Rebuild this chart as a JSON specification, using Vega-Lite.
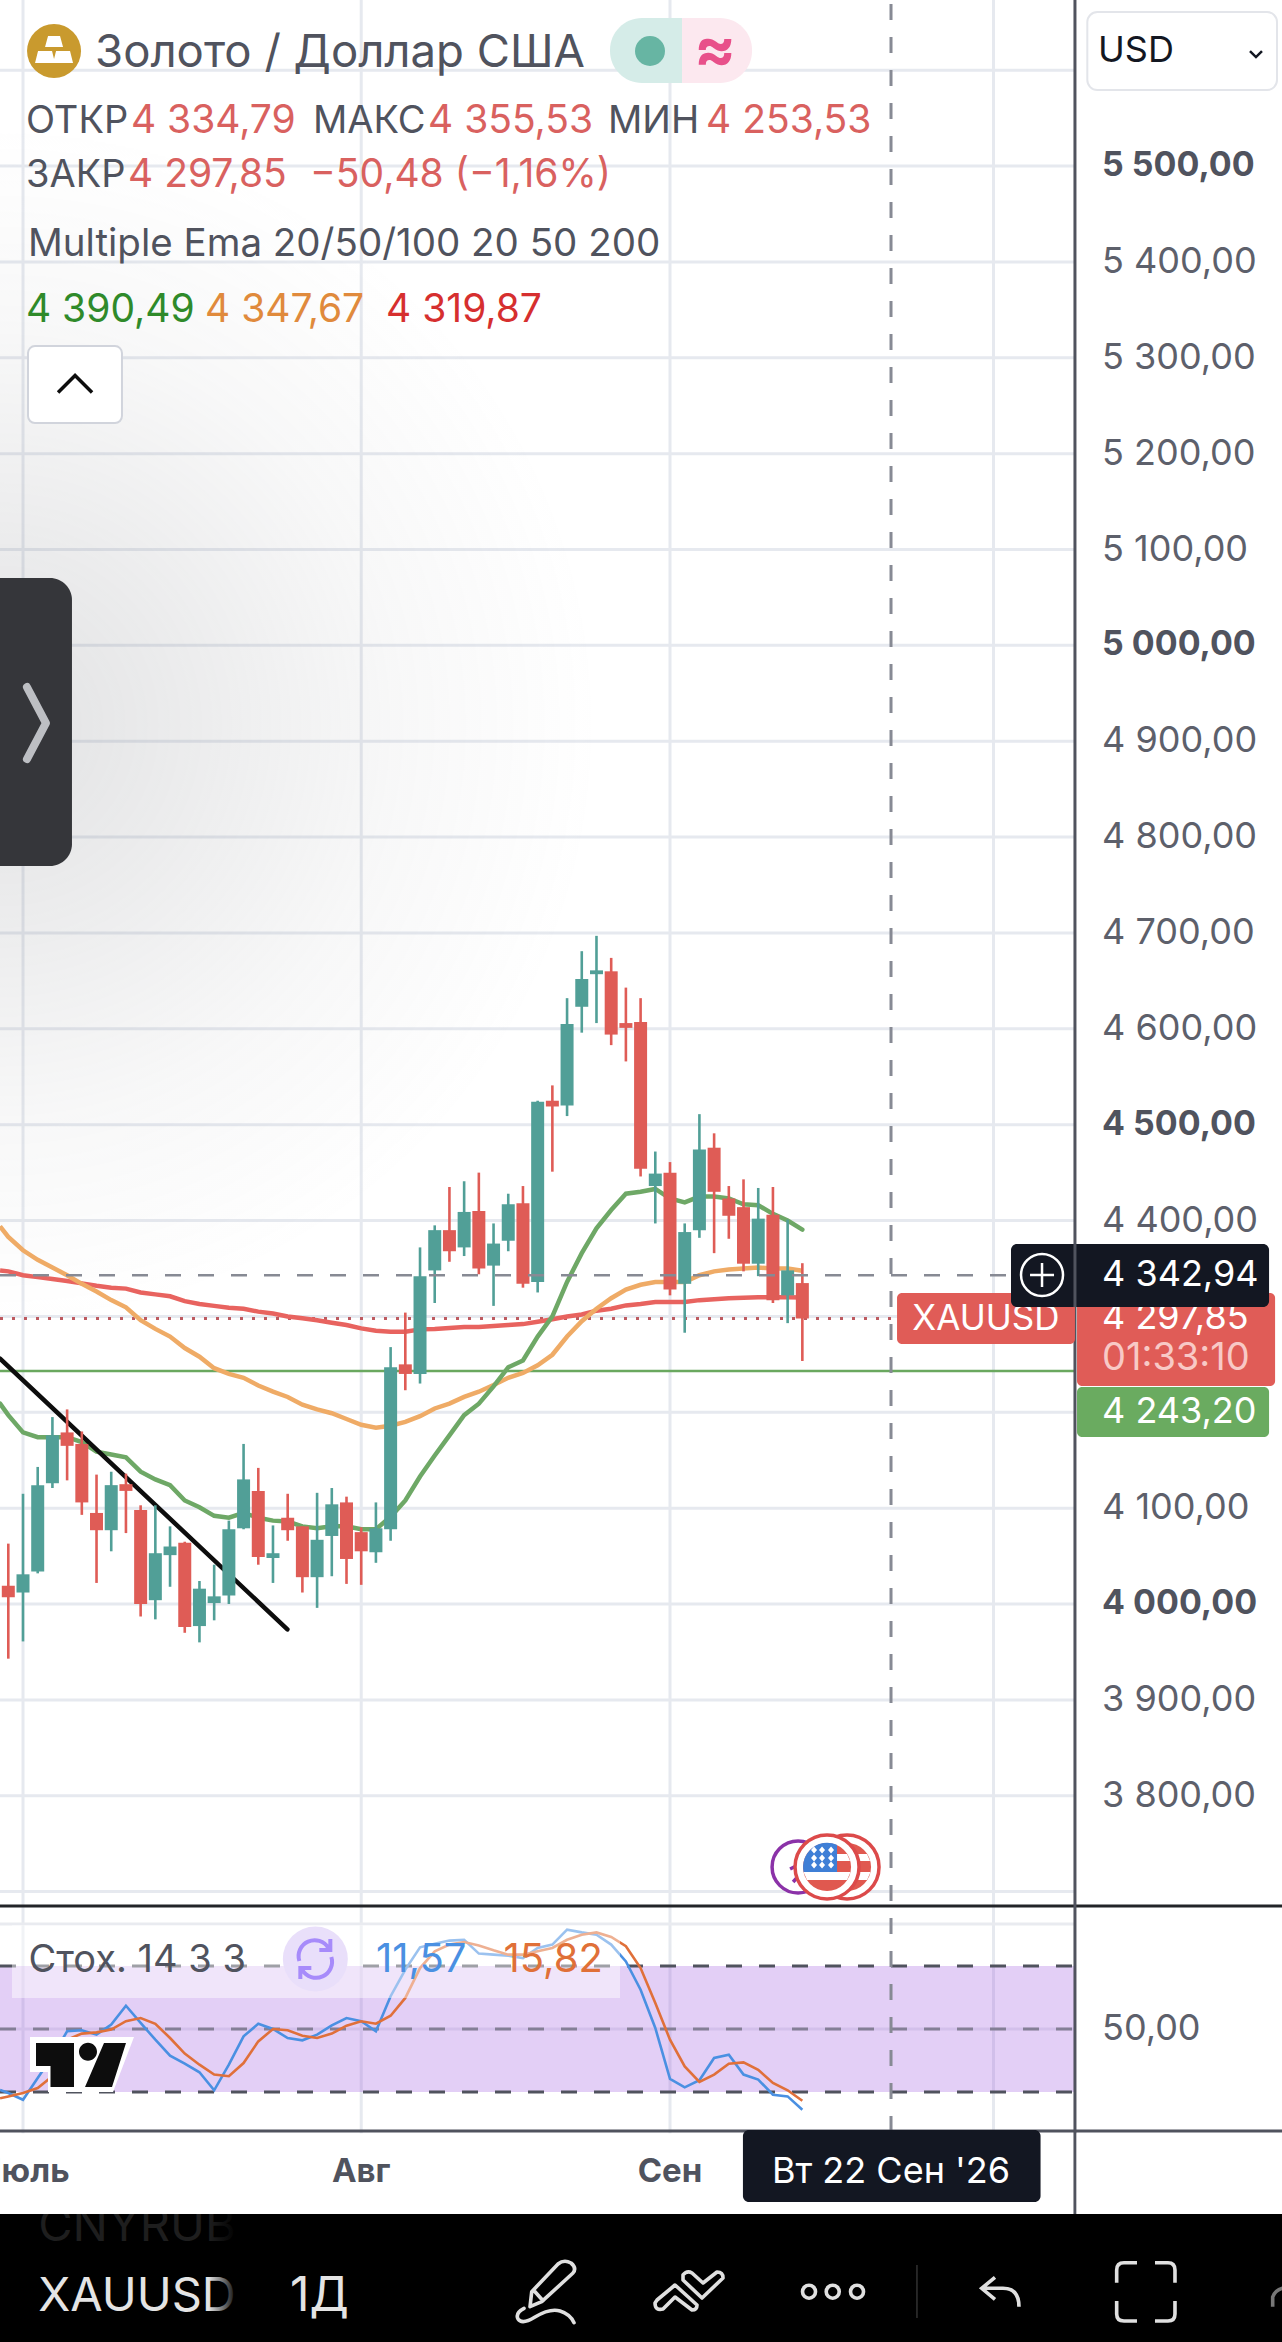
{"$schema":"https://vega.github.io/schema/vega-lite/v6.json","width":1282,"height":2342,"autosize":{"type":"none"},"padding":0,"background":"#ffffff",
"config":{"view":{"stroke":null},"text":{"font":"Inter","align":"left","baseline":"alphabetic","color":"#50535e"}},
"data":{"values":[{"item":"chart"}]},
"datasets":{
"priceGrid":[{"price":3700},{"price":3800},{"price":3900},{"price":4000},{"price":4100},{"price":4200},{"price":4300},{"price":4400},{"price":4500},{"price":4600},{"price":4700},{"price":4800},{"price":4900},{"price":5000},{"price":5100},{"price":5200},{"price":5300},{"price":5400},{"price":5500},{"price":5600}],
"priceLabels":[{"price":3800,"label":"3 800,00","major":false},{"price":3900,"label":"3 900,00","major":false},{"price":4000,"label":"4 000,00","major":true},{"price":4100,"label":"4 100,00","major":false},{"price":4400,"label":"4 400,00","major":false},{"price":4500,"label":"4 500,00","major":true},{"price":4600,"label":"4 600,00","major":false},{"price":4700,"label":"4 700,00","major":false},{"price":4800,"label":"4 800,00","major":false},{"price":4900,"label":"4 900,00","major":false},{"price":5000,"label":"5 000,00","major":true},{"price":5100,"label":"5 100,00","major":false},{"price":5200,"label":"5 200,00","major":false},{"price":5300,"label":"5 300,00","major":false},{"price":5400,"label":"5 400,00","major":false},{"price":5500,"label":"5 500,00","major":true}],
"timeGrid":[{"bar":1,"label":"Июль"},{"bar":24,"label":"Авг"},{"bar":45,"label":"Сен"},{"bar":67,"label":""}],
"stochGrid":[{"level":50},{"level":100}],
"candles":[
{"bar":0,"open":4019,"high":4063,"low":3943,"close":4007},{"bar":1,"open":4012,"high":4115,"low":3961,"close":4031},{"bar":2,"open":4034,"high":4143,"low":4032,"close":4124},{"bar":3,"open":4126,"high":4195,"low":4121,"close":4176},{"bar":4,"open":4179,"high":4203,"low":4129,"close":4165},{"bar":5,"open":4167,"high":4180,"low":4093,"close":4106},{"bar":6,"open":4095,"high":4135,"low":4022,"close":4077},{"bar":7,"open":4077,"high":4138,"low":4055,"close":4124},{"bar":8,"open":4125,"high":4136,"low":4074,"close":4118},{"bar":9,"open":4098,"high":4103,"low":3987,"close":4000},{"bar":10,"open":4004,"high":4103,"low":3984,"close":4053},{"bar":11,"open":4051,"high":4081,"low":4018,"close":4060},{"bar":12,"open":4064,"high":4065,"low":3970,"close":3976},{"bar":13,"open":3977,"high":4024,"low":3960,"close":4016},{"bar":14,"open":4001,"high":4041,"low":3983,"close":4008},{"bar":15,"open":4009,"high":4087,"low":4000,"close":4078},{"bar":16,"open":4079,"high":4167,"low":4078,"close":4130},{"bar":17,"open":4118,"high":4142,"low":4041,"close":4049},{"bar":18,"open":4048,"high":4082,"low":4022,"close":4053},{"bar":19,"open":4090,"high":4115,"low":4066,"close":4077},{"bar":20,"open":4081,"high":4081,"low":4012,"close":4028},{"bar":21,"open":4028,"high":4116,"low":3996,"close":4067},{"bar":22,"open":4071,"high":4121,"low":4029,"close":4104},{"bar":23,"open":4106,"high":4112,"low":4021,"close":4047},{"bar":24,"open":4075,"high":4080,"low":4020,"close":4055},{"bar":25,"open":4054,"high":4106,"low":4043,"close":4079},{"bar":26,"open":4078,"high":4268,"low":4066,"close":4247},{"bar":27,"open":4250,"high":4304,"low":4223,"close":4240},{"bar":28,"open":4240,"high":4372,"low":4230,"close":4342},{"bar":29,"open":4348,"high":4395,"low":4314,"close":4390},{"bar":30,"open":4390,"high":4435,"low":4357,"close":4368},{"bar":31,"open":4372,"high":4441,"low":4363,"close":4409},{"bar":32,"open":4410,"high":4450,"low":4344,"close":4350},{"bar":33,"open":4353,"high":4397,"low":4311,"close":4376},{"bar":34,"open":4379,"high":4428,"low":4368,"close":4417},{"bar":35,"open":4418,"high":4436,"low":4330,"close":4334},{"bar":36,"open":4336,"high":4525,"low":4325,"close":4524},{"bar":37,"open":4525,"high":4541,"low":4451,"close":4519},{"bar":38,"open":4520,"high":4632,"low":4509,"close":4605},{"bar":39,"open":4623,"high":4681,"low":4596,"close":4652},{"bar":40,"open":4657,"high":4697,"low":4606,"close":4661},{"bar":41,"open":4660,"high":4674,"low":4583,"close":4594},{"bar":42,"open":4606,"high":4643,"low":4566,"close":4601},{"bar":43,"open":4607,"high":4632,"low":4446,"close":4454},{"bar":44,"open":4436,"high":4472,"low":4397,"close":4449},{"bar":45,"open":4450,"high":4461,"low":4322,"close":4328},{"bar":46,"open":4334,"high":4397,"low":4283,"close":4388},{"bar":47,"open":4390,"high":4511,"low":4382,"close":4474},{"bar":48,"open":4476,"high":4491,"low":4366,"close":4430},{"bar":49,"open":4423,"high":4436,"low":4381,"close":4405},{"bar":50,"open":4414,"high":4443,"low":4347,"close":4355},{"bar":51,"open":4355,"high":4434,"low":4342,"close":4402},{"bar":52,"open":4406,"high":4435,"low":4314,"close":4317},{"bar":53,"open":4322,"high":4401,"low":4293,"close":4348},{"bar":54,"open":4334.79,"high":4355.53,"low":4253.53,"close":4297.85}],
"ema":[
{"bar":-0.56,"ema20":4209,"ema50":4394,"ema200":4348},{"bar":0,"ema20":4197,"ema50":4383,"ema200":4347},{"bar":1,"ema20":4179,"ema50":4369,"ema200":4343},{"bar":2,"ema20":4174,"ema50":4359,"ema200":4341},{"bar":3,"ema20":4174,"ema50":4351,"ema200":4339},{"bar":4,"ema20":4174,"ema50":4343,"ema200":4337},{"bar":5,"ema20":4169,"ema50":4334,"ema200":4334.5},{"bar":6,"ema20":4159,"ema50":4326,"ema200":4332},{"bar":7,"ema20":4156,"ema50":4317,"ema200":4330},{"bar":8,"ema20":4153,"ema50":4309.5,"ema200":4329},{"bar":9,"ema20":4138,"ema50":4296,"ema200":4325},{"bar":10,"ema20":4130,"ema50":4287,"ema200":4323},{"bar":11,"ema20":4124,"ema50":4279,"ema200":4321},{"bar":12,"ema20":4108,"ema50":4267,"ema200":4316},{"bar":13,"ema20":4101,"ema50":4258,"ema200":4313},{"bar":14,"ema20":4092,"ema50":4246,"ema200":4311},{"bar":15,"ema20":4090,"ema50":4240,"ema200":4309},{"bar":16,"ema20":4095,"ema50":4236,"ema200":4308},{"bar":17,"ema20":4090,"ema50":4228,"ema200":4305},{"bar":18,"ema20":4087,"ema50":4221.5,"ema200":4303},{"bar":19,"ema20":4086,"ema50":4216,"ema200":4300},{"bar":20,"ema20":4081,"ema50":4208,"ema200":4298},{"bar":21,"ema20":4079,"ema50":4203,"ema200":4296},{"bar":22,"ema20":4081,"ema50":4199,"ema200":4293.5},{"bar":23,"ema20":4081,"ema50":4193,"ema200":4291},{"bar":24,"ema20":4078,"ema50":4187,"ema200":4287.5},{"bar":25,"ema20":4078,"ema50":4184,"ema200":4285},{"bar":26,"ema20":4091,"ema50":4186,"ema200":4284},{"bar":27,"ema20":4108,"ema50":4190,"ema200":4284},{"bar":28,"ema20":4133,"ema50":4196,"ema200":4286.5},{"bar":29,"ema20":4155,"ema50":4204,"ema200":4287},{"bar":30,"ema20":4176,"ema50":4209,"ema200":4288},{"bar":31,"ema20":4197,"ema50":4216,"ema200":4289},{"bar":32,"ema20":4209,"ema50":4221.5,"ema200":4289},{"bar":33,"ema20":4227,"ema50":4228.5,"ema200":4290},{"bar":34,"ema20":4247,"ema50":4236,"ema200":4291},{"bar":35,"ema20":4254,"ema50":4241,"ema200":4292},{"bar":36,"ema20":4279,"ema50":4249,"ema200":4294.5},{"bar":37,"ema20":4300,"ema50":4260,"ema200":4297},{"bar":38,"ema20":4336,"ema50":4279,"ema200":4300},{"bar":39,"ema20":4366,"ema50":4295,"ema200":4302},{"bar":40,"ema20":4392,"ema50":4308,"ema200":4306},{"bar":41,"ema20":4411,"ema50":4319,"ema200":4308},{"bar":42,"ema20":4428,"ema50":4328,"ema200":4311.5},{"bar":43,"ema20":4430,"ema50":4333,"ema200":4313},{"bar":44,"ema20":4433,"ema50":4336,"ema200":4315},{"bar":45,"ema20":4423,"ema50":4336,"ema200":4315},{"bar":46,"ema20":4419,"ema50":4336,"ema200":4315},{"bar":47,"ema20":4425,"ema50":4343,"ema200":4317},{"bar":48,"ema20":4425,"ema50":4347,"ema200":4318},{"bar":49,"ema20":4423,"ema50":4349,"ema200":4319},{"bar":50,"ema20":4417,"ema50":4350,"ema200":4319.5},{"bar":51,"ema20":4416,"ema50":4351,"ema200":4320},{"bar":52,"ema20":4407,"ema50":4350,"ema200":4320},{"bar":53,"ema20":4400,"ema50":4350,"ema200":4320},{"bar":54,"ema20":4390.49,"ema50":4347.67,"ema200":4319.87}],
"stoch":[
{"bar":-0.56,"k":21,"d":17},{"bar":0,"k":19.5,"d":17.9},{"bar":1,"k":16.3,"d":19.5},{"bar":2,"k":26.7,"d":21.9},{"bar":3,"k":37,"d":27.5},{"bar":4,"k":48.9,"d":44.9},{"bar":5,"k":49.4,"d":47.8},{"bar":6,"k":47.3,"d":48.4},{"bar":7,"k":52.1,"d":49.7},{"bar":8,"k":61.1,"d":53.7},{"bar":9,"k":52.9,"d":55.2},{"bar":10,"k":44.9,"d":52.5},{"bar":11,"k":37.3,"d":45.7},{"bar":12,"k":33.5,"d":38.3},{"bar":13,"k":29.4,"d":33},{"bar":14,"k":20.8,"d":28.3},{"bar":15,"k":33,"d":27.5},{"bar":16,"k":46.5,"d":33.8},{"bar":17,"k":52.5,"d":44.1},{"bar":18,"k":50,"d":50},{"bar":19,"k":45.7,"d":49.4},{"bar":20,"k":44.6,"d":46.8},{"bar":21,"k":47.3,"d":45.7},{"bar":22,"k":51.7,"d":47.8},{"bar":23,"k":55.2,"d":51.6},{"bar":24,"k":53.7,"d":53.7},{"bar":25,"k":48.9,"d":52.5},{"bar":26,"k":65.6,"d":56.3},{"bar":27,"k":78.3,"d":64.8},{"bar":28,"k":88.9,"d":79},{"bar":29,"k":90.6,"d":87},{"bar":30,"k":92.1,"d":90.2},{"bar":31,"k":92.5,"d":91.4},{"bar":32,"k":85.9,"d":89.8},{"bar":33,"k":85.4,"d":87.5},{"bar":34,"k":84.9,"d":85.4},{"bar":35,"k":83.8,"d":85.4},{"bar":36,"k":88.6,"d":87},{"bar":37,"k":90.2,"d":88.6},{"bar":38,"k":97.3,"d":92.5},{"bar":39,"k":96,"d":94.9},{"bar":40,"k":94.9,"d":96},{"bar":41,"k":90.2,"d":93.8},{"bar":42,"k":82.2,"d":89.4},{"bar":43,"k":68.7,"d":79},{"bar":44,"k":50.5,"d":62.4},{"bar":45,"k":26.2,"d":44.9},{"bar":46,"k":22.2,"d":32.2},{"bar":47,"k":25.6,"d":24.8},{"bar":48,"k":36.2,"d":28.3},{"bar":49,"k":37.8,"d":33.5},{"bar":50,"k":28.3,"d":34.1},{"bar":51,"k":25.9,"d":30.6},{"bar":52,"k":18.7,"d":24.3},{"bar":53,"k":17.9,"d":20.8},{"bar":54,"k":11.57,"d":15.82}],
"trend":[{"bar":-0.56,"price":4256},{"bar":18.98,"price":3973.6}]
},
"resolve":{"scale":{"y":"independent"}},
"layer":[
{"layer":[
{"data":{"name":"timeGrid"},"mark":{"type":"rule","color":"#e6e9ef","strokeWidth":3},"encoding":{"x":{"field":"bar","type":"quantitative","scale":{"domain":[-0.5645,86.62],"nice":false,"zero":false,"padding":0},"axis":null}}},
{"data":{"name":"priceGrid"},"mark":{"type":"rule","color":"#e6e9ef","strokeWidth":3},"encoding":{"y":{"field":"price","type":"quantitative","scale":{"domain":[3230.2,5673.2],"nice":false,"zero":false},"axis":null}}},
{"mark":{"type":"rect","fill":{"gradient":"radial","x1":0.5,"y1":0.5,"r1":0,"x2":0.5,"y2":0.5,"r2":0.5,"stops":[{"offset":0,"color":"rgba(110,112,118,0.2)"},{"offset":0.33,"color":"rgba(110,112,118,0.13)"},{"offset":0.66,"color":"rgba(110,112,118,0.05)"},{"offset":1,"color":"rgba(110,112,118,0)"}]}},"encoding":{"x":{"datum":-41.4,"type":"quantitative","axis":null},"x2":{"datum":40.2},"y":{"datum":4291,"type":"quantitative","axis":null},"y2":{"datum":5542.7}}},
{"mark":{"type":"rect","color":"#ffffff"},"encoding":{"x":{"datum":72.54,"type":"quantitative","axis":null},"x2":{"datum":86.7},"y":{"datum":3230.2,"type":"quantitative","axis":null},"y2":{"datum":5673.2}}},
{"mark":{"type":"rule","color":"#bd5a60","strokeWidth":3,"strokeDash":[3,9]},"encoding":{"x":{"datum":-0.5645,"type":"quantitative","axis":null},"x2":{"datum":72.54},"y":{"datum":4297.85,"type":"quantitative","axis":null}}},
{"mark":{"type":"rule","color":"#6aa85f","strokeWidth":2.5},"encoding":{"x":{"datum":-0.5645,"type":"quantitative","axis":null},"x2":{"datum":72.54},"y":{"datum":4243.2,"type":"quantitative","axis":null}}},
{"data":{"name":"ema"},"mark":{"type":"line","color":"#e8635f","strokeWidth":4.5},"encoding":{"x":{"field":"bar","type":"quantitative","axis":null},"y":{"field":"ema200","type":"quantitative","axis":null}}},
{"data":{"name":"ema"},"mark":{"type":"line","color":"#efab66","strokeWidth":4.5},"encoding":{"x":{"field":"bar","type":"quantitative","axis":null},"y":{"field":"ema50","type":"quantitative","axis":null}}},
{"data":{"name":"ema"},"mark":{"type":"line","color":"#6ea866","strokeWidth":4.5,"strokeCap":"round"},"encoding":{"x":{"field":"bar","type":"quantitative","axis":null},"y":{"field":"ema20","type":"quantitative","axis":null}}},
{"data":{"name":"trend"},"mark":{"type":"line","color":"#0d0d0d","strokeWidth":4.5,"strokeCap":"round"},"encoding":{"x":{"field":"bar","type":"quantitative","axis":null},"y":{"field":"price","type":"quantitative","axis":null}}},
{"data":{"name":"candles"},"mark":{"type":"rule","strokeWidth":2.6},"encoding":{"x":{"field":"bar","type":"quantitative","axis":null},"y":{"field":"low","type":"quantitative","axis":null},"y2":{"field":"high"},"color":{"condition":{"test":"datum.close>=datum.open","value":"#519f97"},"value":"#df5c56"}}},
{"data":{"name":"candles"},"mark":{"type":"bar","width":13,"orient":"vertical"},"encoding":{"x":{"field":"bar","type":"quantitative","scale":{"padding":0},"axis":null},"y":{"field":"open","type":"quantitative","axis":null},"y2":{"field":"close"},"color":{"condition":{"test":"datum.close>=datum.open","value":"#519f97"},"value":"#df5c56"}}}
]},
{"layer":[
{"data":{"name":"stochGrid"},"mark":{"type":"rule","color":"#e9ebf0","strokeWidth":3},"encoding":{"x":{"datum":-0.5645,"type":"quantitative","axis":null},"x2":{"datum":72.54},"y":{"field":"level","type":"quantitative","scale":{"domain":[-99.05,1016.19],"nice":false,"zero":false},"axis":null}}},
{"mark":{"type":"rect","color":"#9b51e0","opacity":0.28},"encoding":{"x":{"datum":-0.5645,"type":"quantitative","axis":null},"x2":{"datum":72.54},"y":{"datum":20,"type":"quantitative","axis":null},"y2":{"datum":80}}},
{"mark":{"type":"rule","color":"#50535e","strokeWidth":3,"strokeDash":[16,17]},"encoding":{"x":{"datum":-0.5645,"type":"quantitative","axis":null},"x2":{"datum":72.54},"y":{"datum":80,"type":"quantitative","axis":null}}},
{"mark":{"type":"rule","color":"#50535e","strokeWidth":3,"strokeDash":[16,17],"opacity":0.6},"encoding":{"x":{"datum":-0.5645,"type":"quantitative","axis":null},"x2":{"datum":72.54},"y":{"datum":50,"type":"quantitative","axis":null}}},
{"mark":{"type":"rule","color":"#50535e","strokeWidth":3,"strokeDash":[16,17]},"encoding":{"x":{"datum":-0.5645,"type":"quantitative","axis":null},"x2":{"datum":72.54},"y":{"datum":20,"type":"quantitative","axis":null}}},
{"data":{"name":"stoch"},"mark":{"type":"line","color":"#4a90e2","strokeWidth":2.6},"encoding":{"x":{"field":"bar","type":"quantitative","axis":null},"y":{"field":"k","type":"quantitative","axis":null}}},
{"data":{"name":"stoch"},"mark":{"type":"line","color":"#e0703a","strokeWidth":2.6},"encoding":{"x":{"field":"bar","type":"quantitative","axis":null},"y":{"field":"d","type":"quantitative","axis":null}}},
{"data":{"values":[{"level":50,"label":"50,00"}]},"mark":{"type":"text","fontSize":36,"color":"#5d606b","baseline":"middle"},"encoding":{"x":{"datum":74.38,"type":"quantitative","axis":null},"y":{"field":"level","type":"quantitative","axis":null},"text":{"field":"label"}}}
]},
{"layer":[
{"mark":{"type":"rule","color":"#878a94","strokeWidth":3,"strokeDash":[16,17]},"encoding":{"x":{"datum":60.03,"type":"quantitative","axis":null},"y":{"datum":3449.2,"type":"quantitative","scale":{"domain":[3230.2,5673.2],"nice":false,"zero":false},"axis":null},"y2":{"datum":5673.2}}},
{"mark":{"type":"rule","color":"#878a94","strokeWidth":2.5,"strokeDash":[16,17]},"encoding":{"x":{"datum":-0.5645,"type":"quantitative","axis":null},"x2":{"datum":72.54},"y":{"datum":4342.94,"type":"quantitative","axis":null}}},
{"data":{"name":"priceLabels"},"transform":[{"filter":"!datum.major"}],"mark":{"type":"text","fontSize":36,"color":"#5d606b","baseline":"middle"},"encoding":{"x":{"datum":74.38,"type":"quantitative","axis":null},"y":{"field":"price","type":"quantitative","axis":null},"text":{"field":"label"}}},
{"data":{"name":"priceLabels"},"transform":[{"filter":"datum.major"}],"mark":{"type":"text","fontSize":34,"fontWeight":"bold","color":"#50535e","baseline":"middle"},"encoding":{"x":{"datum":74.38,"type":"quantitative","axis":null},"y":{"field":"price","type":"quantitative","axis":null},"text":{"field":"label"}}},
{"mark":{"type":"rect","color":"#ffffff","opacity":0.45},"encoding":{"x":{"datum":0.25,"type":"quantitative","axis":null},"x2":{"datum":41.6},"y":{"datum":3589,"type":"quantitative","axis":null},"y2":{"datum":3665.2}}},
{"mark":{"type":"text","text":"Стох. 14 3 3","fontSize":38},"encoding":{"x":{"datum":1.37,"type":"quantitative","axis":null},"y":{"datum":3616.1,"type":"quantitative","axis":null}}},
{"mark":{"type":"point","shape":"circle","size":4225,"filled":true,"color":"#e9dffa","opacity":1},"encoding":{"x":{"datum":20.88,"type":"quantitative","axis":null},"y":{"datum":3629.7,"type":"quantitative","axis":null}}},
{"mark":{"type":"point","shape":"M-16 2A16 16 0 0 1 13-11M15-20V-9H4M16-2A16 16 0 0 1-13 11M-15 20V9H-4","size":4,"filled":false,"color":"#a78bfa","strokeWidth":4,"opacity":1},"encoding":{"x":{"datum":20.88,"type":"quantitative","axis":null},"y":{"datum":3629.7,"type":"quantitative","axis":null}}},
{"mark":{"type":"text","text":"11,57","fontSize":40,"color":"#4a90e2"},"encoding":{"x":{"datum":25,"type":"quantitative","axis":null},"y":{"datum":3616.1,"type":"quantitative","axis":null}}},
{"mark":{"type":"text","text":"15,82","fontSize":40,"color":"#e07038"},"encoding":{"x":{"datum":33.68,"type":"quantitative","axis":null},"y":{"datum":3616.1,"type":"quantitative","axis":null}}},
{"mark":{"type":"point","shape":"M30 37H134L113 92H48V72H30Z","size":4,"filled":true,"color":"#ffffff","opacity":1},"encoding":{"x":{"datum":-0.5645,"type":"quantitative","axis":null},"y":{"datum":3586.9,"type":"quantitative","axis":null}}},
{"mark":{"type":"point","shape":"M36 43H74V87H50.5V66H36ZM104 43H126L112 87H85ZM97 51.7A9 9 0 1 1 79 51.7A9 9 0 1 1 97 51.7Z","size":4,"filled":true,"color":"#0d0d0d","opacity":1},"encoding":{"x":{"datum":-0.5645,"type":"quantitative","axis":null},"y":{"datum":3586.9,"type":"quantitative","axis":null}}},

{"mark":{"type":"point","shape":"circle","size":2704,"filled":true,"fill":"#ffffff","stroke":"#8b32a8","strokeWidth":3.5,"opacity":1},"encoding":{"x":{"datum":53.71,"type":"quantitative","axis":null},"y":{"datum":3725.7,"type":"quantitative","axis":null}}},
{"mark":{"type":"point","shape":"M-8 2L4-4M-5 15L4 5","size":4,"filled":false,"color":"#8b32a8","strokeWidth":3.5,"opacity":1},"encoding":{"x":{"datum":53.71,"type":"quantitative","axis":null},"y":{"datum":3725.7,"type":"quantitative","axis":null}}},
{"mark":{"type":"point","shape":"circle","size":4096,"filled":true,"fill":"#ffffff","stroke":"#dc4a4a","strokeWidth":3.5,"opacity":1},"encoding":{"x":{"datum":57.04,"type":"quantitative","axis":null},"y":{"datum":3725.7,"type":"quantitative","axis":null}}},
{"mark":{"type":"point","shape":"circle","size":2304,"filled":true,"color":"#e0584f","opacity":1},"encoding":{"x":{"datum":57.04,"type":"quantitative","axis":null},"y":{"datum":3725.7,"type":"quantitative","axis":null}}},
{"mark":{"type":"point","shape":"M-20-13H20L23-6H-23ZM-23.5 5H23.5L20 13H-20Z","size":4,"filled":true,"color":"#ffffff","opacity":1},"encoding":{"x":{"datum":57.04,"type":"quantitative","axis":null},"y":{"datum":3725.7,"type":"quantitative","axis":null}}},
{"mark":{"type":"point","shape":"circle","size":4096,"filled":true,"fill":"#ffffff","stroke":"#dc4a4a","strokeWidth":3.5,"opacity":1},"encoding":{"x":{"datum":55.68,"type":"quantitative","axis":null},"y":{"datum":3725.7,"type":"quantitative","axis":null}}},
{"mark":{"type":"point","shape":"circle","size":2304,"filled":true,"color":"#e0584f","opacity":1},"encoding":{"x":{"datum":55.68,"type":"quantitative","axis":null},"y":{"datum":3725.7,"type":"quantitative","axis":null}}},
{"mark":{"type":"point","shape":"M-20-13H20L23-6H-23ZM-23.5 5H23.5L20 13H-20Z","size":4,"filled":true,"color":"#ffffff","opacity":1},"encoding":{"x":{"datum":55.68,"type":"quantitative","axis":null},"y":{"datum":3725.7,"type":"quantitative","axis":null}}},
{"mark":{"type":"point","shape":"M10 5H-23.4A24 24 0 0 1 10-22Z","size":4,"filled":true,"color":"#3f7fd6","opacity":1},"encoding":{"x":{"datum":55.68,"type":"quantitative","axis":null},"y":{"datum":3725.7,"type":"quantitative","axis":null}}},
{"mark":{"type":"point","shape":"M-13-20.5L-10-17L-13-13.5L-16-17ZM-5-20.5L-2-17L-5-13.5L-8-17ZM4-20.5L7-17L4-13.5L1-17ZM-13-12.5L-10-9L-13-5.5L-16-9ZM-5-12.5L-2-9L-5-5.5L-8-9ZM4-12.5L7-9L4-5.5L1-9ZM-13-5.5L-10-2L-13 1.5L-16-2ZM-5-5.5L-2-2L-5 1.5L-8-2ZM4-5.5L7-2L4 1.5L1-2Z","size":4,"filled":true,"color":"#ffffff","opacity":1},"encoding":{"x":{"datum":55.68,"type":"quantitative","axis":null},"y":{"datum":3725.7,"type":"quantitative","axis":null}}},

{"mark":{"type":"rule","color":"#222428","strokeWidth":3},"encoding":{"y":{"datum":3685,"type":"quantitative","axis":null}}},
{"mark":{"type":"rule","color":"#50535e","strokeWidth":3},"encoding":{"y":{"datum":3450.2,"type":"quantitative","axis":null}}},
{"mark":{"type":"rule","color":"#50535e","strokeWidth":3},"encoding":{"x":{"datum":72.54,"type":"quantitative","axis":null},"y":{"datum":3363.7,"type":"quantitative","axis":null},"y2":{"datum":5673.2}}},

{"mark":{"type":"rect","color":"#e05c57","cornerRadius":5},"encoding":{"x":{"datum":60.44,"type":"quantitative","axis":null},"x2":{"datum":72.54},"y":{"datum":4271.2,"type":"quantitative","axis":null},"y2":{"datum":4324.4}}},
{"mark":{"type":"text","text":"XAUUSD","fontSize":35,"color":"#ffffff","baseline":"middle"},"encoding":{"x":{"datum":61.48,"type":"quantitative","axis":null},"y":{"datum":4297.3,"type":"quantitative","axis":null}}},
{"mark":{"type":"rect","color":"#e05c57","cornerRadius":5},"encoding":{"x":{"datum":72.68,"type":"quantitative","axis":null},"x2":{"datum":86.15},"y":{"datum":4227.4,"type":"quantitative","axis":null},"y2":{"datum":4324.4}}},
{"mark":{"type":"text","text":"4 297,85","fontSize":36,"color":"#ffffff","baseline":"middle"},"encoding":{"x":{"datum":74.38,"type":"quantitative","axis":null},"y":{"datum":4297.85,"type":"quantitative","axis":null}}},
{"mark":{"type":"text","text":"01:33:10","fontSize":38,"color":"#f8c9c6","baseline":"middle"},"encoding":{"x":{"datum":74.38,"type":"quantitative","axis":null},"y":{"datum":4255.6,"type":"quantitative","axis":null}}},
{"mark":{"type":"rect","color":"#6aab60","cornerRadius":5},"encoding":{"x":{"datum":72.68,"type":"quantitative","axis":null},"x2":{"datum":85.74},"y":{"datum":4174.2,"type":"quantitative","axis":null},"y2":{"datum":4226.4}}},
{"mark":{"type":"text","text":"4 243,20","fontSize":36,"color":"#ffffff","baseline":"middle"},"encoding":{"x":{"datum":74.38,"type":"quantitative","axis":null},"y":{"datum":4200.3,"type":"quantitative","axis":null}}},
{"mark":{"type":"rect","color":"#131722","cornerRadius":6},"encoding":{"x":{"datum":68.19,"type":"quantitative","axis":null},"x2":{"datum":85.74},"y":{"datum":4309.8,"type":"quantitative","axis":null},"y2":{"datum":4375.5}}},
{"mark":{"type":"rule","color":"#50535e","strokeWidth":3},"encoding":{"x":{"datum":72.54,"type":"quantitative","axis":null},"y":{"datum":4309.8,"type":"quantitative","axis":null},"y2":{"datum":4375.5}}},
{"mark":{"type":"point","shape":"circle","size":1764,"filled":false,"color":"#ffffff","strokeWidth":2.5,"opacity":1},"encoding":{"x":{"datum":70.3,"type":"quantitative","axis":null},"y":{"datum":4343.2,"type":"quantitative","axis":null}}},
{"mark":{"type":"point","shape":"M-12 0H12M0-12V12","size":4,"filled":false,"color":"#ffffff","strokeWidth":2.5,"opacity":1},"encoding":{"x":{"datum":70.3,"type":"quantitative","axis":null},"y":{"datum":4343.2,"type":"quantitative","axis":null}}},
{"mark":{"type":"text","text":"4 342,94","fontSize":36,"color":"#ffffff","baseline":"middle"},"encoding":{"x":{"datum":74.38,"type":"quantitative","axis":null},"y":{"datum":4342.94,"type":"quantitative","axis":null}}},

{"mark":{"type":"rect","fill":"#ffffff","stroke":"#e3e5ea","strokeWidth":2,"cornerRadius":10},"encoding":{"x":{"datum":73.38,"type":"quantitative","axis":null},"x2":{"datum":86.28},"y":{"datum":5579.3,"type":"quantitative","axis":null},"y2":{"datum":5660.6}}},
{"mark":{"type":"text","text":"USD","fontSize":36,"color":"#131722","baseline":"middle"},"encoding":{"x":{"datum":74.11,"type":"quantitative","axis":null},"y":{"datum":5620,"type":"quantitative","axis":null}}},
{"mark":{"type":"point","shape":"M-6-3L0 3L6-3","size":4,"filled":false,"color":"#131722","strokeWidth":2.5,"opacity":1},"encoding":{"x":{"datum":84.85,"type":"quantitative","axis":null},"y":{"datum":5616.8,"type":"quantitative","axis":null}}},

{"mark":{"type":"point","shape":"circle","size":2916,"filled":true,"color":"#c99a2e","opacity":1},"encoding":{"x":{"datum":3.11,"type":"quantitative","axis":null},"y":{"datum":5620,"type":"quantitative","axis":null}}},
{"mark":{"type":"point","shape":"M-6-15H6L9-4H-9ZM-16 0H-2L1 12H-19ZM2 0H16L19 12H-1Z","size":4,"filled":true,"color":"#ffffff","opacity":1},"encoding":{"x":{"datum":3.11,"type":"quantitative","axis":null},"y":{"datum":5620,"type":"quantitative","axis":null}}},
{"mark":{"type":"text","text":"Золото / Доллар США","fontSize":45.5},"encoding":{"x":{"datum":5.9,"type":"quantitative","axis":null},"y":{"datum":5603.3,"type":"quantitative","axis":null}}},
{"mark":{"type":"rect","color":"#d5ece8","cornerRadiusTopLeft":32,"cornerRadiusBottomLeft":32},"encoding":{"x":{"datum":40.92,"type":"quantitative","axis":null},"x2":{"datum":45.82},"y":{"datum":5586.6,"type":"quantitative","axis":null},"y2":{"datum":5654.4}}},
{"mark":{"type":"rect","color":"#fce8ef","cornerRadiusTopRight":32,"cornerRadiusBottomRight":32},"encoding":{"x":{"datum":45.82,"type":"quantitative","axis":null},"x2":{"datum":50.58},"y":{"datum":5586.6,"type":"quantitative","axis":null},"y2":{"datum":5654.4}}},
{"mark":{"type":"point","shape":"circle","size":900,"filled":true,"color":"#67b5a3","opacity":1},"encoding":{"x":{"datum":43.64,"type":"quantitative","axis":null},"y":{"datum":5620,"type":"quantitative","axis":null}}},
{"mark":{"type":"text","text":"≈","fontSize":62,"fontWeight":"bold","color":"#e8508a","align":"center","baseline":"middle"},"encoding":{"x":{"datum":48.06,"type":"quantitative","axis":null},"y":{"datum":5620,"type":"quantitative","axis":null}}},

{"mark":{"type":"text","text":"ОТКР","fontSize":38},"encoding":{"x":{"datum":1.2,"type":"quantitative","axis":null},"y":{"datum":5534.4,"type":"quantitative","axis":null}}},
{"mark":{"type":"text","text":"4 334,79","fontSize":39,"color":"#d9615f"},"encoding":{"x":{"datum":8.34,"type":"quantitative","axis":null},"y":{"datum":5534.4,"type":"quantitative","axis":null}}},
{"mark":{"type":"text","text":"МАКС","fontSize":38},"encoding":{"x":{"datum":20.72,"type":"quantitative","axis":null},"y":{"datum":5534.4,"type":"quantitative","axis":null}}},
{"mark":{"type":"text","text":"4 355,53","fontSize":39,"color":"#d9615f"},"encoding":{"x":{"datum":28.54,"type":"quantitative","axis":null},"y":{"datum":5534.4,"type":"quantitative","axis":null}}},
{"mark":{"type":"text","text":"МИН","fontSize":38},"encoding":{"x":{"datum":40.78,"type":"quantitative","axis":null},"y":{"datum":5534.4,"type":"quantitative","axis":null}}},
{"mark":{"type":"text","text":"4 253,53","fontSize":39,"color":"#d9615f"},"encoding":{"x":{"datum":47.45,"type":"quantitative","axis":null},"y":{"datum":5534.4,"type":"quantitative","axis":null}}},
{"mark":{"type":"text","text":"ЗАКР","fontSize":38},"encoding":{"x":{"datum":1.2,"type":"quantitative","axis":null},"y":{"datum":5478.1,"type":"quantitative","axis":null}}},
{"mark":{"type":"text","text":"4 297,85","fontSize":39,"color":"#d9615f"},"encoding":{"x":{"datum":8.14,"type":"quantitative","axis":null},"y":{"datum":5478.1,"type":"quantitative","axis":null}}},
{"mark":{"type":"text","text":"−50,48 (−1,16%)","fontSize":39,"color":"#d9615f"},"encoding":{"x":{"datum":20.52,"type":"quantitative","axis":null},"y":{"datum":5478.1,"type":"quantitative","axis":null}}},
{"mark":{"type":"text","text":"Multiple Ema 20/50/100 20 50 200","fontSize":38.5},"encoding":{"x":{"datum":1.34,"type":"quantitative","axis":null},"y":{"datum":5406.1,"type":"quantitative","axis":null}}},
{"mark":{"type":"text","text":"4 390,49","fontSize":39,"color":"#2f8a2a"},"encoding":{"x":{"datum":1.2,"type":"quantitative","axis":null},"y":{"datum":5337.3,"type":"quantitative","axis":null}}},
{"mark":{"type":"text","text":"4 347,67","fontSize":39,"color":"#e08a3c"},"encoding":{"x":{"datum":13.38,"type":"quantitative","axis":null},"y":{"datum":5337.3,"type":"quantitative","axis":null}}},
{"mark":{"type":"text","text":"4 319,87","fontSize":39,"color":"#d62f2f"},"encoding":{"x":{"datum":25.69,"type":"quantitative","axis":null},"y":{"datum":5337.3,"type":"quantitative","axis":null}}},
{"mark":{"type":"rect","fill":"#ffffff","stroke":"#d1d4dc","strokeWidth":2,"cornerRadius":7},"encoding":{"x":{"datum":1.34,"type":"quantitative","axis":null},"x2":{"datum":7.73},"y":{"datum":5231.9,"type":"quantitative","axis":null},"y2":{"datum":5312.2}}},
{"mark":{"type":"point","shape":"M-17 8.5L0-8.5L17 8.5","size":4,"filled":false,"color":"#0d0d0d","strokeWidth":3.5,"opacity":1},"encoding":{"x":{"datum":4.54,"type":"quantitative","axis":null},"y":{"datum":5272.6,"type":"quantitative","axis":null}}},

{"mark":{"type":"rect","color":"#35363a","cornerRadius":22},"encoding":{"x":{"datum":-3,"type":"quantitative","axis":null},"x2":{"datum":4.33},"y":{"datum":4769.8,"type":"quantitative","axis":null},"y2":{"datum":5070.2}}},
{"mark":{"type":"point","shape":"M-9-36L10 0L-9 36","size":4,"filled":false,"color":"#bdbfc3","strokeWidth":8,"strokeCap":"round","strokeJoin":"round","opacity":1},"encoding":{"x":{"datum":1.88,"type":"quantitative","axis":null},"y":{"datum":4919,"type":"quantitative","axis":null}}},

{"mark":{"type":"rect","color":"#000000"},"encoding":{"x":{"datum":-0.5645,"type":"quantitative","axis":null},"x2":{"datum":86.7},"y":{"datum":3230.2,"type":"quantitative","axis":null},"y2":{"datum":3363.7}}},
{"mark":{"type":"text","text":"CNYRUB","fontSize":47,"color":"#1e1e1e"},"encoding":{"x":{"datum":2.03,"type":"quantitative","axis":null},"y":{"datum":3335.5,"type":"quantitative","axis":null}}},
{"mark":{"type":"rect","color":"#ffffff"},"encoding":{"x":{"datum":-0.5645,"type":"quantitative","axis":null},"x2":{"datum":72.4},"y":{"datum":3363.7,"type":"quantitative","axis":null},"y2":{"datum":3448}}},
{"mark":{"type":"rect","color":"#ffffff"},"encoding":{"x":{"datum":72.66,"type":"quantitative","axis":null},"x2":{"datum":86.7},"y":{"datum":3363.7,"type":"quantitative","axis":null},"y2":{"datum":3448}}},
{"data":{"name":"timeGrid"},"mark":{"type":"text","fontSize":33,"fontWeight":"bold","color":"#50535e","align":"center","baseline":"middle"},"encoding":{"x":{"field":"bar","type":"quantitative","axis":null},"y":{"datum":3407.5,"type":"quantitative","axis":null},"text":{"field":"label"}}},
{"mark":{"type":"rect","color":"#131722","cornerRadius":6},"encoding":{"x":{"datum":49.96,"type":"quantitative","axis":null},"x2":{"datum":70.2},"y":{"datum":3376.2,"type":"quantitative","axis":null},"y2":{"datum":3451.3}}},
{"mark":{"type":"text","text":"Вт 22 Сен '26","fontSize":36,"color":"#ffffff","align":"center","baseline":"middle"},"encoding":{"x":{"datum":60.03,"type":"quantitative","axis":null},"y":{"datum":3407.5,"type":"quantitative","axis":null}}},

{"mark":{"type":"text","text":"XAUUSD","fontSize":47,"color":"#e4e4e4"},"encoding":{"x":{"datum":2.03,"type":"quantitative","axis":null},"y":{"datum":3262.8,"type":"quantitative","axis":null}}},
{"mark":{"type":"rect","fill":{"gradient":"linear","x1":0,"y1":0,"x2":1,"y2":0,"stops":[{"offset":0,"color":"rgba(0,0,0,0)"},{"offset":1,"color":"rgba(0,0,0,1)"}]}},"encoding":{"x":{"datum":13.6,"type":"quantitative","axis":null},"x2":{"datum":15.6},"y":{"datum":3230.2,"type":"quantitative","axis":null},"y2":{"datum":3363.7}}},
{"mark":{"type":"rect","color":"#000000"},"encoding":{"x":{"datum":15.6,"type":"quantitative","axis":null},"x2":{"datum":19},"y":{"datum":3230.2,"type":"quantitative","axis":null},"y2":{"datum":3363.7}}},
{"mark":{"type":"text","text":"1Д","fontSize":48,"color":"#e4e4e4"},"encoding":{"x":{"datum":19.16,"type":"quantitative","axis":null},"y":{"datum":3262.8,"type":"quantitative","axis":null}}},
{"mark":{"type":"point","shape":"M58 24Q64 19 71 23Q77 28 73 33L41.7 61.7L30 66.7L31.7 51.7ZM35 51.7L43 60.7M24 68.3Q15 73 18 79Q22 85 35 77Q50 68 60 71Q70 74 74 82.7M157 60L175 45L197 65Q197 70 192 70L175 57L163 69Q155 71 155 63ZM183 35Q187 30 192 33L203 43L217 32Q223 32 223 38L202 58L183 40ZM315.5 51.7A6.5 6.5 0 1 1 302.5 51.7A6.5 6.5 0 1 1 315.5 51.7ZM339.2 51.7A6.5 6.5 0 1 1 326.2 51.7A6.5 6.5 0 1 1 339.2 51.7ZM363.5 51.7A6.5 6.5 0 1 1 350.5 51.7A6.5 6.5 0 1 1 363.5 51.7Z","size":4,"filled":false,"color":"#e0e0e0","strokeWidth":3.6,"strokeCap":"round","strokeJoin":"round","opacity":1},"encoding":{"x":{"datum":33.44,"type":"quantitative","axis":null},"y":{"datum":3336.6,"type":"quantitative","axis":null}}},
{"mark":{"type":"point","shape":"M95 37.3L81.7 48.3L95 59.3M81.7 48.3H103Q119 48.3 119 66.7M237 22.7H224Q216.7 22.7 216.7 30V42.7M255 22.7H268Q275 22.7 275 30V42.7M216.7 61V74Q216.7 81 224 81H237M275 61V74Q275 81 268 81H255","size":4,"filled":false,"color":"#e0e0e0","strokeWidth":3.6,"opacity":1},"encoding":{"x":{"datum":60.64,"type":"quantitative","axis":null},"y":{"datum":3336.6,"type":"quantitative","axis":null}}},
{"mark":{"type":"point","shape":"M17 25V78","size":4,"filled":false,"color":"#4a4a4a","strokeWidth":1,"opacity":1},"encoding":{"x":{"datum":60.64,"type":"quantitative","axis":null},"y":{"datum":3336.6,"type":"quantitative","axis":null}}},
{"mark":{"type":"point","shape":"M372.7 66.7V57Q375 50 383 48","size":4,"filled":false,"color":"#777777","strokeWidth":3.6,"opacity":1},"encoding":{"x":{"datum":60.64,"type":"quantitative","axis":null},"y":{"datum":3336.6,"type":"quantitative","axis":null}}}
]}
]}
